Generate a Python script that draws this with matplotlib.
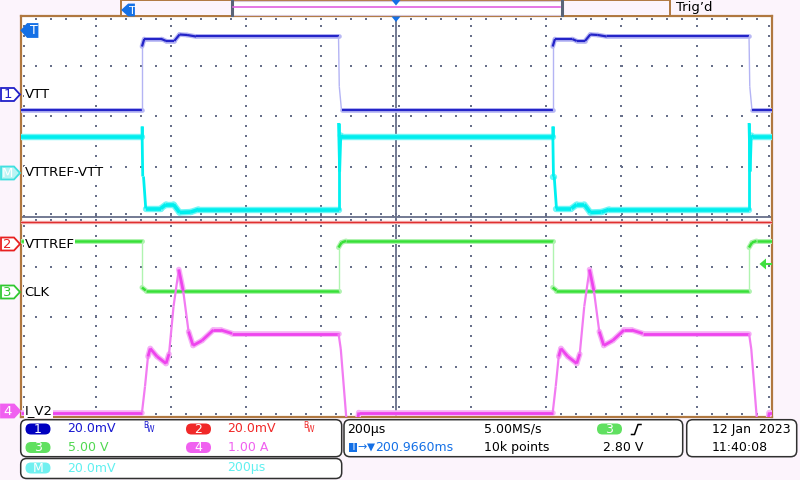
import numpy as np
import matplotlib.pyplot as plt
from matplotlib.collections import LineCollection
from matplotlib.patches import Polygon, FancyBboxPatch, Rectangle

# scope screen: 10 x 200us horizontally, 8 divisions vertically
# everything below is in divisions from screen centre
rise_edges = [-3.385, 2.084]   # VTT steps up / CLK falls
fall_edges = [-0.768, 4.698]   # VTT steps down / CLK rises

# VTT (ch1)
vtt_start = 2.12
vtt_rise_t = [0.0, 0.0, 0.03, 0.26, 0.32, 0.43, 0.50, 0.60, 0.72]
vtt_rise_v = [2.12, 3.40, 3.55, 3.55, 3.51, 3.51, 3.64, 3.63, 3.60]
vtt_fall_t = [0.0, 0.01, 0.04]
vtt_fall_v = [3.60, 2.60, 2.12]

# VTTREF-VTT (math)
m_start = 1.59
m_rise_t = [0.0, 0.0, 0.01, 0.02, 0.05, 0.25, 0.32, 0.42, 0.50, 0.65, 0.75]
m_rise_v = [1.59, 1.80, 0.80, 0.80, 0.16, 0.16, 0.24, 0.24, 0.08, 0.09, 0.14]
m_fall_t = [0.0, 0.0, 0.015, 0.03, 0.05]
m_fall_v = [0.14, 1.87, 0.90, 1.62, 1.59]

# VTTREF (ch2)
ref_level = -0.10

# CLK (ch3)
clk_start = -0.49
clk_rise_t = [0.0, 0.0, 0.05]
clk_rise_v = [-0.49, -1.42, -1.48]
clk_fall_t = [0.0, 0.0, 0.04, 0.10]
clk_fall_v = [-1.48, -0.62, -0.52, -0.49]

# I_V2 (ch4)
i_start = -3.92
i_rise_t = [0.0, 0.04, 0.08, 0.11, 0.20, 0.32, 0.36, 0.42, 0.49, 0.55, 0.62, 0.68, 0.80, 0.95, 1.05, 1.20]
i_rise_v = [-3.92, -3.40, -2.80, -2.64, -2.80, -2.94, -2.75, -1.80, -1.06, -1.50, -2.30, -2.58, -2.48, -2.27, -2.27, -2.34]
i_fall_t = [0.0, 0.03, 0.11, 0.16, 0.22, 0.27]
i_fall_v = [-2.34, -2.65, -4.15, -4.40, -4.40, -3.92]

ch_labels = ["VTT", "VTTREF-VTT", "VTTREF", "CLK", "I_V2"]

BG = "#fcf4fc"
BROWN = "#b07840"
GRIDC = "#68708a"
TBLUE = "#1470e6"


def build(start, rise, fall):
    ev = [(t, rise) for t in rise_edges] + [(t, fall) for t in fall_edges]
    ev.sort(key=lambda e: e[0])
    ts, vs = [-5.0], [start]
    for t0, (dt, dv) in ev:
        ts += [t0 + d for d in dt]
        vs += list(dv)
    ts.append(5.2)
    vs.append(vs[-1])
    return np.array(ts), np.array(vs)


def trace(ax, t, v, main, pale, halo, lw=2.0, hw=4.0, steep=10.0, slw=1.0):
    pts = np.column_stack([t, v])
    segs = np.stack([pts[:-1], pts[1:]], axis=1)
    slope = np.abs(np.diff(v)) / (np.diff(t) + 1e-9)
    flat = slope <= steep
    ax.add_collection(LineCollection(segs[flat], colors=halo, linewidths=hw,
                                     capstyle="round", zorder=3))
    cols = [main if f else pale for f in flat]
    lws = [lw if f else slw for f in flat]
    ax.add_collection(LineCollection(segs, colors=cols, linewidths=lws, zorder=4))


fig = plt.figure(figsize=(8, 4.8), dpi=100, facecolor=BG)

L, R, T, B = 20.7, 771.7, 16.5, 416.5
ax = fig.add_axes([L / 800, (480 - B) / 480, (R - L) / 800, (B - T) / 480])
ax.set_facecolor("white")
ax.set_xlim(-5, 5)
ax.set_ylim(-4, 4)
ax.set_xticks([])
ax.set_yticks([])
for s in ax.spines.values():
    s.set_color(BROWN)
    s.set_linewidth(1.6)

# dotted graticule
fine_y = np.arange(-4, 4.01, 0.2)
fine_x = np.arange(-5, 5.01, 0.2)
dot = dict(s=0.8, marker="s", color=GRIDC, lw=0, zorder=1)
for gx in range(-4, 5):
    if gx != 0:
        ax.scatter(np.full(fine_y.size, gx), fine_y, **dot)
for gy in range(-3, 4):
    if gy != 0:
        ax.scatter(fine_x, np.full(fine_x.size, gy), **dot)
ax.axhline(0, color=GRIDC, lw=1.3, zorder=1)
ax.axvline(0, color=GRIDC, lw=1.3, zorder=1)
for off in (-0.04, 0.04):
    ax.scatter(np.full(fine_y.size, off), fine_y, **dot)
for off in (-0.06, 0.06):
    ax.scatter(fine_x, np.full(fine_x.size, off), **dot)
for ex in (-4.96, 4.96):
    ax.scatter(np.full(fine_y.size, ex), fine_y, **dot)
for ey in (-3.94, 3.94):
    ax.scatter(fine_x, np.full(fine_x.size, ey), **dot)

# traces
ax.plot([-5, 5], [ref_level, ref_level], color="#f4b0b0", lw=2.4, zorder=3)
ax.plot([-5, 5], [ref_level, ref_level], color="#e03030", lw=0.9, zorder=4)

t, v = build(vtt_start, (vtt_rise_t, vtt_rise_v), (vtt_fall_t, vtt_fall_v))
trace(ax, t, v, "#2424c8", "#b4b4f4", "#b8b8f4", lw=1.6, hw=3.4)

t, v = build(m_start, (m_rise_t, m_rise_v), (m_fall_t, m_fall_v))
trace(ax, t, v, "#00eeee", "#00f0f0", "#70f6f6", lw=2.6, hw=4.6, slw=2.0)

t, v = build(clk_start, (clk_rise_t, clk_rise_v), (clk_fall_t, clk_fall_v))
trace(ax, t, v, "#38e038", "#b0f4b0", "#b0f2b0", lw=1.8, hw=3.6)

t, v = build(i_start, (i_rise_t, i_rise_v), (i_fall_t, i_fall_v))
trace(ax, t, v, "#ee44ee", "#f27cf2", "#f6b0f6", lw=2.0, hw=4.0, slw=1.6)

# overlay in pixel coordinates
ov = fig.add_axes([0, 0, 1, 1])
ov.set_xlim(0, 800)
ov.set_ylim(480, 0)
ov.axis("off")
ov.patch.set_alpha(0)


def tag(x0, yc, w, h, face, edge, label, tc, left=False, fs=9.5):
    hh = h / 2
    if left:
        pts = [(x0 + w, yc - hh), (x0 + 6, yc - hh), (x0, yc), (x0 + 6, yc + hh), (x0 + w, yc + hh)]
        cx = x0 + 4 + w / 2
    else:
        pts = [(x0, yc - hh), (x0 + w - 6, yc - hh), (x0 + w, yc), (x0 + w - 6, yc + hh), (x0, yc + hh)]
        cx = x0 + (w - 6) / 2
    ov.add_patch(Polygon(pts, closed=True, fc=face, ec=edge, lw=1.3, zorder=6))
    ov.text(cx, yc + 0.5, label, color=tc, fontsize=fs, ha="center", va="center", zorder=7)


# channel markers and names
tag(1, 94.5, 19, 13, "white", "#2020c8", "1", "#2020c8")
tag(1, 173, 19, 13, "#b8f4f4", "#40e0e0", "M", "white")
tag(1, 244, 19, 13, "white", "#e82020", "2", "#e82020")
tag(1, 292, 19, 13, "white", "#30c830", "3", "#30c830")
tag(1, 411, 19, 13, "#f060f0", "#f060f0", "4", "white")
for lab, yy in zip(ch_labels, [94.5, 173, 244, 292, 411]):
    ov.text(24.5, yy, lab, fontsize=9.5, ha="left", va="center", zorder=7,
            bbox=dict(fc="white", ec="none", pad=0.6))

# trigger markers
tag(21.5, 30.5, 16, 13, TBLUE, TBLUE, "T", "white", left=True, fs=9)
ov.add_patch(Polygon([(391.5, 16.5), (400.5, 16.5), (396, 22)], closed=True, fc=TBLUE, ec="none", zorder=7))
ov.add_patch(Polygon([(766, 258.5), (766, 269.5), (759.5, 264)], closed=True, fc="#40e040", ec="none", zorder=7))
ov.plot([765, 771], [264, 264], color="#40e040", lw=1.5, zorder=7)

# top status bar
ov.add_patch(Rectangle((121, 0), 549, 16, fc=BG, ec=BROWN, lw=1.4, zorder=5))
ov.add_patch(Rectangle((231.5, 0.5), 330, 14.5, fc="white", ec="#d8c8d8", lw=0.8, zorder=6))
ov.plot([231.5, 231.5], [1, 15], color="#5a6478", lw=2.2, zorder=7)
ov.plot([561.5, 561.5], [1, 15], color="#5a6478", lw=2.2, zorder=7)
ov.plot([233, 560], [6.8, 6.8], color="#e060e0", lw=1.2, zorder=7)
ov.add_patch(Polygon([(391.5, 0), (400.5, 0), (396, 5.5)], closed=True, fc=TBLUE, ec="none", zorder=8))
tag(122.5, 10, 11.5, 11, TBLUE, TBLUE, "T", "white", left=True, fs=8)
ov.text(676, 8, "Trig\u2019d", fontsize=9.5, ha="left", va="center", zorder=7)

# bottom information panel
for x0, y0, w, h in [(20.7, 419.7, 321, 37), (20.7, 458.5, 321, 20), (344, 419.7, 338.7, 37), (686.7, 419.7, 110, 37)]:
    ov.add_patch(FancyBboxPatch((x0, y0), w, h, boxstyle="round,pad=0,rounding_size=6",
                                fc="white", ec="#303030", lw=1.1, zorder=5))


def badge(xc, yc, face, label):
    ov.add_patch(FancyBboxPatch((xc - 12.5, yc - 5.5), 25, 11, boxstyle="round,pad=0,rounding_size=5.5",
                                fc=face, ec="none", zorder=6))
    ov.text(xc, yc + 0.3, label, color="white", fontsize=9, ha="center", va="center", zorder=7)


def info(x, y, s, c="black", fs=9):
    ov.text(x, y, s, color=c, fontsize=fs, ha="left", va="center", zorder=7)


r1, r2, r3 = 429, 447.5, 468
badge(38, r1, "#0000c0", "1")
badge(198.5, r1, "#f02828", "2")
badge(38, r2, "#60e060", "3")
badge(198.5, r2, "#f060f0", "4")
badge(38, r3, "#70f0f0", "M")
info(67.5, r1, "20.0mV", "#1818d0")
info(227.5, r1, "20.0mV", "#f02828")
info(67.5, r2, "5.00 V", "#50d850")
info(227.5, r2, "1.00 A", "#f060f0")
info(67.5, r3, "20.0mV", "#60f0f0")
info(227.5, r3, "200\u00b5s", "#60f0f0")
for bx, bc in [(143, "#1818d0"), (303, "#f02828")]:
    info(bx, 425.5, "B", bc, 5.5)
    info(bx + 4, 429.5, "W", bc, 5.5)

info(347, r1, "200\u00b5s")
ov.add_patch(Rectangle((349.3, 443), 8, 8.7, fc=TBLUE, ec="none", zorder=6))
ov.text(353.3, r2, "T", color="white", fontsize=7, ha="center", va="center", zorder=7)
info(357.5, r2, "\u2192", TBLUE, 8)
ov.add_patch(Polygon([(367, 443.5), (375, 443.5), (371, 451.5)], closed=True, fc=TBLUE, ec="none", zorder=6))
info(375, r2, "200.9660ms", TBLUE)
info(484.3, r1, "5.00MS/s")
info(484.3, r2, "10k points")
badge(609.5, r1, "#60e060", "3")
ov.plot([631.5, 634.5, 638, 641], [434.5, 434.5, 424.5, 424.5], color="black", lw=1.1, zorder=7)
info(603.3, r2, "2.80 V")
info(711.7, r1, "12 Jan  2023")
info(711.7, r2, "11:40:08")

fig.savefig("out.png", dpi=100, facecolor=BG)
